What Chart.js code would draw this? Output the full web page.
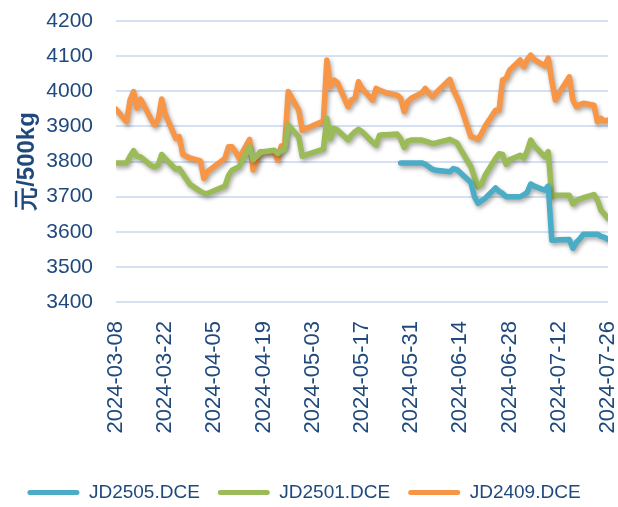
<!DOCTYPE html>
<html>
<head>
<meta charset="utf-8">
<script src="https://cdn.jsdelivr.net/npm/chart.js@4.4.1/dist/chart.umd.min.js"></script>
<style>
  html, body { margin: 0; padding: 0; background: #fff; }
</style>
</head>
<body>
<canvas id="chart" width="618" height="507"></canvas>
<script>
// trading days, grouped by week
var dates = [
  '2024-03-08',
  '2024-03-11', '2024-03-12', '2024-03-13', '2024-03-14', '2024-03-15',
  '2024-03-18', '2024-03-19', '2024-03-20', '2024-03-21', '2024-03-22',
  '2024-03-25', '2024-03-26', '2024-03-27', '2024-03-28', '2024-03-29',
  '2024-04-01', '2024-04-02', '2024-04-03',
  '2024-04-08', '2024-04-09', '2024-04-10', '2024-04-11', '2024-04-12',
  '2024-04-15', '2024-04-16', '2024-04-17', '2024-04-18', '2024-04-19',
  '2024-04-22', '2024-04-23', '2024-04-24', '2024-04-25', '2024-04-26',
  '2024-04-29', '2024-04-30',
  '2024-05-06', '2024-05-07', '2024-05-08', '2024-05-09', '2024-05-10',
  '2024-05-13', '2024-05-14', '2024-05-15', '2024-05-16', '2024-05-17',
  '2024-05-20', '2024-05-21', '2024-05-22', '2024-05-23', '2024-05-24',
  '2024-05-27', '2024-05-28', '2024-05-29', '2024-05-30', '2024-05-31',
  '2024-06-03', '2024-06-04', '2024-06-05', '2024-06-06', '2024-06-07',
  '2024-06-11', '2024-06-12', '2024-06-13', '2024-06-14',
  '2024-06-17', '2024-06-18', '2024-06-19', '2024-06-20', '2024-06-21',
  '2024-06-24', '2024-06-25', '2024-06-26', '2024-06-27', '2024-06-28',
  '2024-07-01', '2024-07-02', '2024-07-03', '2024-07-04', '2024-07-05',
  '2024-07-08', '2024-07-09', '2024-07-10', '2024-07-11', '2024-07-12',
  '2024-07-15', '2024-07-16', '2024-07-17', '2024-07-18', '2024-07-19',
  '2024-07-22', '2024-07-23', '2024-07-24', '2024-07-25', '2024-07-26'
];

var jd2505 = [
  null,
  null, null, null, null, null,
  null, null, null, null, null,
  null, null, null, null, null,
  null, null, null,
  null, null, null, null, null,
  null, null, null, null, null,
  null, null, null, null, null,
  null, null,
  null, null, null, null, null,
  null, null, null, null, null,
  null, null, null, null, null,
  null, 3796, 3796, 3796, 3796,
  3796, 3792, 3785, 3778, 3775,
  3771, 3780, 3777, 3768,
  3740, 3700, 3681, 3688, 3695,
  3725, 3715, 3709, 3700, 3700,
  3700, 3705, 3712, 3736, 3730,
  3718, 3730, 3576, 3576, 3577,
  3578, 3553, 3570, 3580, 3593,
  3593, 3593, 3587, 3584, 3578
];

var jd2501 = [
  3796,
  3796, 3815, 3831, 3815, 3813,
  3788, 3785, 3790, 3820, 3808,
  3778, 3780, 3765, 3750, 3735,
  3715, 3710, 3709,
  3730, 3760, 3775, 3780, 3785,
  3842, 3805, 3815, 3825, 3828,
  3832, 3823, 3830, 3835, 3904,
  3870, 3815,
  3835, 3923, 3865, 3894, 3890,
  3862, 3875, 3885, 3892, 3885,
  3855, 3847, 3875, 3876, 3876,
  3878, 3865, 3840, 3858, 3861,
  3861, 3858, 3855, 3851, 3853,
  3863, 3858, 3853, 3835,
  3785, 3755, 3728, 3735, 3760,
  3809, 3822, 3820, 3792, 3805,
  3818, 3810, 3830, 3861, 3845,
  3813, 3828, 3700, 3704, 3704,
  3704, 3679, 3689, 3693, 3697,
  3706, 3690, 3661, 3650, 3638
];

var jd2409 = [
  3949,
  3913, 3975, 3999, 3952, 3978,
  3920, 3904, 3920, 3978, 3935,
  3866, 3871, 3820, 3815, 3810,
  3802, 3752, 3771,
  3809, 3842, 3842, 3828, 3809,
  3863, 3776, 3800, 3828, 3828,
  3828, 3804, 3844, 3844, 3999,
  3946, 3889,
  3915, 4089, 4013, 4032, 4025,
  3956, 3975, 3980, 4027, 4008,
  3975, 4008, 4003, 3999, 3995,
  3989, 3980, 3942, 3970, 3980,
  3995, 4008, 3995, 3984, 3995,
  4034, 4003, 3984, 3960,
  3870, 3868, 3863, 3880, 3900,
  3946, 3946, 4032, 4037, 4060,
  4089, 4070, 4090, 4103, 4090,
  4072, 4094, 4030, 3975, 3994,
  4041, 3975, 3956, 3962, 3966,
  3960, 3913, 3923, 3915, 3918
];

var seriesNames = ['JD2505.DCE', 'JD2501.DCE', 'JD2409.DCE'];
var seriesColors = ['#4BACC6', '#9BBB59', '#F79646'];
var xTicks = ['2024-03-08', '2024-03-22', '2024-04-05', '2024-04-19', '2024-05-03', '2024-05-17',
  '2024-05-31', '2024-06-14', '2024-06-28', '2024-07-12', '2024-07-26'];
var yTicks = [3400, 3500, 3600, 3700, 3800, 3900, 4000, 4100, 4200];

var t0 = Date.parse(xTicks[0]);
function dayOf(s) { return (Date.parse(s) - t0) / 86400000; }

function toPoints(vals) {
  var pts = [];
  dates.forEach(function (d, i) {
    if (vals[i] !== null) pts.push({x: dayOf(d), y: vals[i]});
  });
  return pts;
}

var textColor = '#1F497D';
var fontFamily = '"Liberation Sans", Arial, sans-serif';

// soft drop shadow under each line
var shadowPlugin = {
  id: 'lineShadow',
  beforeDatasetDraw: function (chart) {
    var c = chart.ctx;
    c.save();
    c.shadowColor = 'rgba(0,0,0,0.35)';
    c.shadowBlur = 4;
    c.shadowOffsetX = 1.5;
    c.shadowOffsetY = 2.5;
  },
  afterDatasetDraw: function (chart) {
    chart.ctx.restore();
  }
};

var allSeries = [jd2505, jd2501, jd2409];

new Chart(document.getElementById('chart'), {
  type: 'line',
  data: {
    datasets: allSeries.map(function (s, i) {
      return {
        label: seriesNames[i],
        data: toPoints(s),
        borderColor: seriesColors[i],
        backgroundColor: seriesColors[i],
        borderWidth: 5.5,
        pointRadius: 0,
        tension: 0,
        borderCapStyle: 'round',
        borderJoinStyle: 'round',
        fill: false
      };
    })
  },
  options: {
    responsive: false,
    animation: false,
    layout: { padding: { top: 21, right: 10, left: 0, bottom: 0 } },
    scales: {
      x: {
        type: 'linear',
        min: 0,
        max: dayOf(xTicks[xTicks.length - 1]),
        grid: { display: false, drawTicks: false },
        border: { display: false },
        afterBuildTicks: function (scale) {
          scale.ticks = xTicks.map(function (d) { return {value: dayOf(d)}; });
        },
        ticks: {
          autoSkip: false,
          minRotation: 90,
          maxRotation: 90,
          padding: 19,
          color: textColor,
          font: { family: fontFamily, size: 22 },
          callback: function (v, i) { return xTicks[i]; }
        },
        afterFit: function (scale) {
          scale.height = 163;
          scale.paddingLeft = 0;
          scale.paddingRight = 0;
        }
      },
      y: {
        min: yTicks[0],
        max: yTicks[yTicks.length - 1],
        grid: { color: '#D5E1F2', lineWidth: 2, drawTicks: false },
        border: { display: false },
        afterBuildTicks: function (scale) {
          scale.ticks = yTicks.map(function (v) { return {value: v}; });
        },
        ticks: {
          padding: 23,
          color: textColor,
          font: { family: fontFamily, size: 21 },
          callback: function (v) { return String(v); }
        },
        title: {
          display: true,
          text: '元/500kg',
          color: textColor,
          padding: { top: 13, bottom: 0 },
          font: { family: fontFamily, size: 24, weight: 'bold' }
        },
        afterFit: function (scale) {
          scale.width = 116;
          scale.paddingTop = 0;
          scale.paddingBottom = 0;
        }
      }
    },
    plugins: {
      tooltip: { enabled: false },
      legend: {
        position: 'bottom',
        maxHeight: 42,
        labels: {
          boxWidth: 52,
          boxHeight: 5,
          padding: 18,
          useBorderRadius: true,
          color: textColor,
          font: { family: fontFamily, size: 19 },
          generateLabels: function (chart) {
            return chart.data.datasets.map(function (ds, i) {
              return {
                text: ds.label,
                fillStyle: ds.borderColor,
                strokeStyle: ds.borderColor,
                lineWidth: 0,
                borderRadius: 2.5,
                fontColor: textColor,
                datasetIndex: i,
                hidden: false
              };
            });
          }
        }
      }
    }
  },
  plugins: [shadowPlugin]
});
</script>
</body>
</html>
